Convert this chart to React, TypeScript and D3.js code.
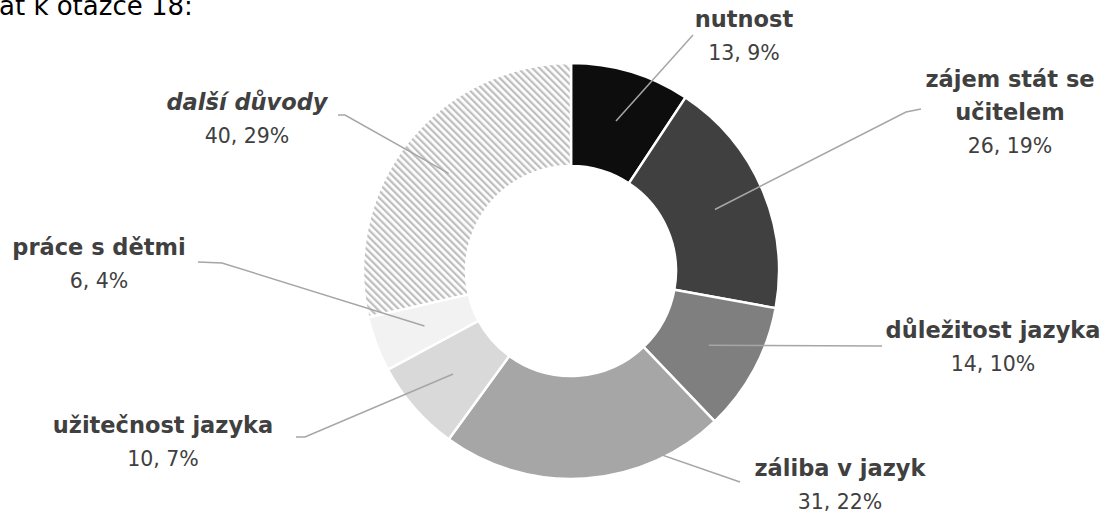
import { arc, pie, PieArcDatum } from 'd3';

// odpovědi k otázce 18
const categories = ['nutnost', 'zájem stát se učitelem', 'důležitost jazyka', 'záliba v jazyk', 'užitečnost jazyka', 'práce s dětmi', 'další důvody'];
const labelLines = [['nutnost'], ['zájem stát se', 'učitelem'], ['důležitost jazyka'], ['záliba v jazyk'], ['užitečnost jazyka'], ['práce s dětmi'], ['další důvody']];
const counts = [13, 26, 14, 31, 10, 6, 40];
const percents = ['9%', '19%', '10%', '22%', '7%', '4%', '29%'];
const fills = ['#0d0d0d', '#404040', '#7f7f7f', '#a6a6a6', '#d9d9d9', '#f2f2f2', 'url(#hatch)'];

// rozmístění popisků (střed textu, první účaří, začátek vodící čáry)
const labelLayout = [
  { x: 744, y: 27, lead: [[693, 35]] },
  { x: 1010, y: 87, lead: [[921, 109], [906, 112]] },
  { x: 993, y: 338, lead: [[882, 346]] },
  { x: 840, y: 476, lead: [[740, 482]] },
  { x: 163, y: 433, lead: [[296, 437], [305, 437]] },
  { x: 99, y: 255, lead: [[198, 262], [222, 263]] },
  { x: 247, y: 110, lead: [[338, 115], [345, 115]] },
];

const width = 1104;
const height = 511;
const cx = 571;
const cy = 271;
const outerR = 208;
const innerR = 105;
const lineH = 33;

type Row = { name: string; value: number; i: number };

export default function App() {
  const rows: Row[] = categories.map((name, i) => ({ name, value: counts[i], i }));
  const arcs = pie<Row>().sort(null).value((d) => d.value)(rows);
  const arcGen = arc<PieArcDatum<Row>>().innerRadius(innerR).outerRadius(outerR);
  const midGen = arc<PieArcDatum<Row>>().innerRadius(outerR * 0.5 + innerR * 0.5).outerRadius(outerR * 0.5 + innerR * 0.5);

  const font = '"DejaVu Sans", sans-serif';

  return (
    <svg width={width} height={height} style={{ position: 'absolute', left: 0, top: 0 }} fontFamily={font}>
      <defs>
        <pattern id="hatch" width={5} height={5} patternUnits="userSpaceOnUse" patternTransform="rotate(-45)">
          <rect width={5} height={5} fill="#fff" />
          <rect width={2.3} height={5} fill="#bfbfbf" />
        </pattern>
      </defs>
      <text x={-1} y={15} fontSize={26} fill="#000">ať k otázce 18:</text>
      <g transform={`translate(${cx},${cy})`}>
        {arcs.map((a) => (
          <path key={a.data.name} d={arcGen(a) ?? ''} fill={fills[a.data.i]} stroke="#fff" strokeWidth={2.5} />
        ))}
      </g>
      {arcs.map((a) => {
        const [mx, my] = midGen.centroid(a);
        const lay = labelLayout[a.data.i];
        const pts = [...lay.lead, [cx + mx, cy + my]];
        return (
          <polyline key={'l' + a.data.i} points={pts.map((p) => p.join(',')).join(' ')} fill="none" stroke="#a6a6a6" strokeWidth={1.5} />
        );
      })}
      {rows.map((r) => {
        const lay = labelLayout[r.i];
        const lines = labelLines[r.i];
        return (
          <text key={'t' + r.i} textAnchor="middle" fill="#404040">
            {lines.map((ln, k) => (
              <tspan key={k} x={lay.x} y={lay.y + k * lineH} fontSize={22.5} fontWeight="bold" fontStyle={r.i === 6 ? 'italic' : 'normal'}>
                {ln}
              </tspan>
            ))}
            <tspan x={lay.x} y={lay.y + lines.length * lineH} fontSize={20.5}>
              {`${r.value}, ${percents[r.i]}`}
            </tspan>
          </text>
        );
      })}
    </svg>
  );
}
